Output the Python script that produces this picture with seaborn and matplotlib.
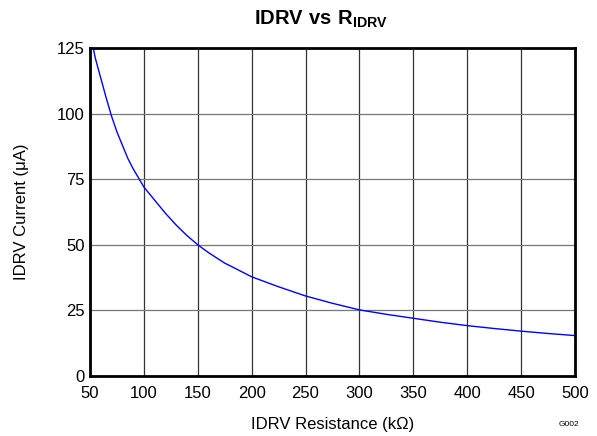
import matplotlib
matplotlib.use("Agg")
import matplotlib.pyplot as plt
import seaborn as sns
import pandas as pd

# values
resistance = [53, 55, 60, 65, 70, 75, 80, 85, 90, 100, 110, 120, 130, 140, 150,
              160, 175, 180, 200, 225, 250, 275, 300, 325, 350, 375, 400, 425,
              450, 475, 500]
current = [125, 121, 113.5, 106, 99, 93, 88, 83, 79, 72, 67, 62, 57.5, 53.5, 50,
           47, 43, 42, 37.8, 34, 30.5, 27.7, 25.2, 23.5, 22, 20.5, 19.2, 18.1,
           17.1, 16.2, 15.4]
x_ticks = [50, 100, 150, 200, 250, 300, 350, 400, 450, 500]
y_ticks = [0, 25, 50, 75, 100, 125]

df = pd.DataFrame({"R": resistance, "I": current})

sns.set_theme(style="white")
plt.rcParams["font.family"] = ["Liberation Sans", "DejaVu Sans"]
plt.rcParams["mathtext.fontset"] = "custom"
plt.rcParams["mathtext.rm"] = "Liberation Sans"
plt.rcParams["mathtext.bf"] = "Liberation Sans:bold"
plt.rcParams["text.color"] = "black"
plt.rcParams["axes.labelcolor"] = "black"
plt.rcParams["xtick.color"] = "black"
plt.rcParams["ytick.color"] = "black"

fig = plt.figure(figsize=(5.97, 4.36), dpi=100)
ax = fig.add_axes([0.1508, 0.1376, 0.8123, 0.7523])

sns.lineplot(data=df, x="R", y="I", ax=ax, color="#0000ff", linewidth=1.0)

ax.set_xlim(50, 500)
ax.set_ylim(0, 125)
ax.set_xticks(x_ticks)
ax.set_yticks(y_ticks)
ax.grid(True, axis="x", color="#333333", linewidth=0.9)
ax.grid(True, axis="y", color="#777777", linewidth=0.9)
ax.tick_params(length=0, labelsize=12, pad=4)
ax.tick_params(axis="x", pad=7)
for s in ax.spines.values():
    s.set_color("black")
    s.set_linewidth(2)

ax.set_xlabel("IDRV Resistance (k\u03a9)", fontsize=12, labelpad=12)
ax.set_ylabel("IDRV Current (\u03bcA)", fontsize=12, labelpad=20)
ax.set_title(r"$\mathbf{IDRV\ vs\ R_{IDRV}}$", fontsize=14.5, pad=17, x=0.476)

fig.text(0.935, 0.022, "G002", fontsize=6)

fig.savefig("out.png", dpi=100)
